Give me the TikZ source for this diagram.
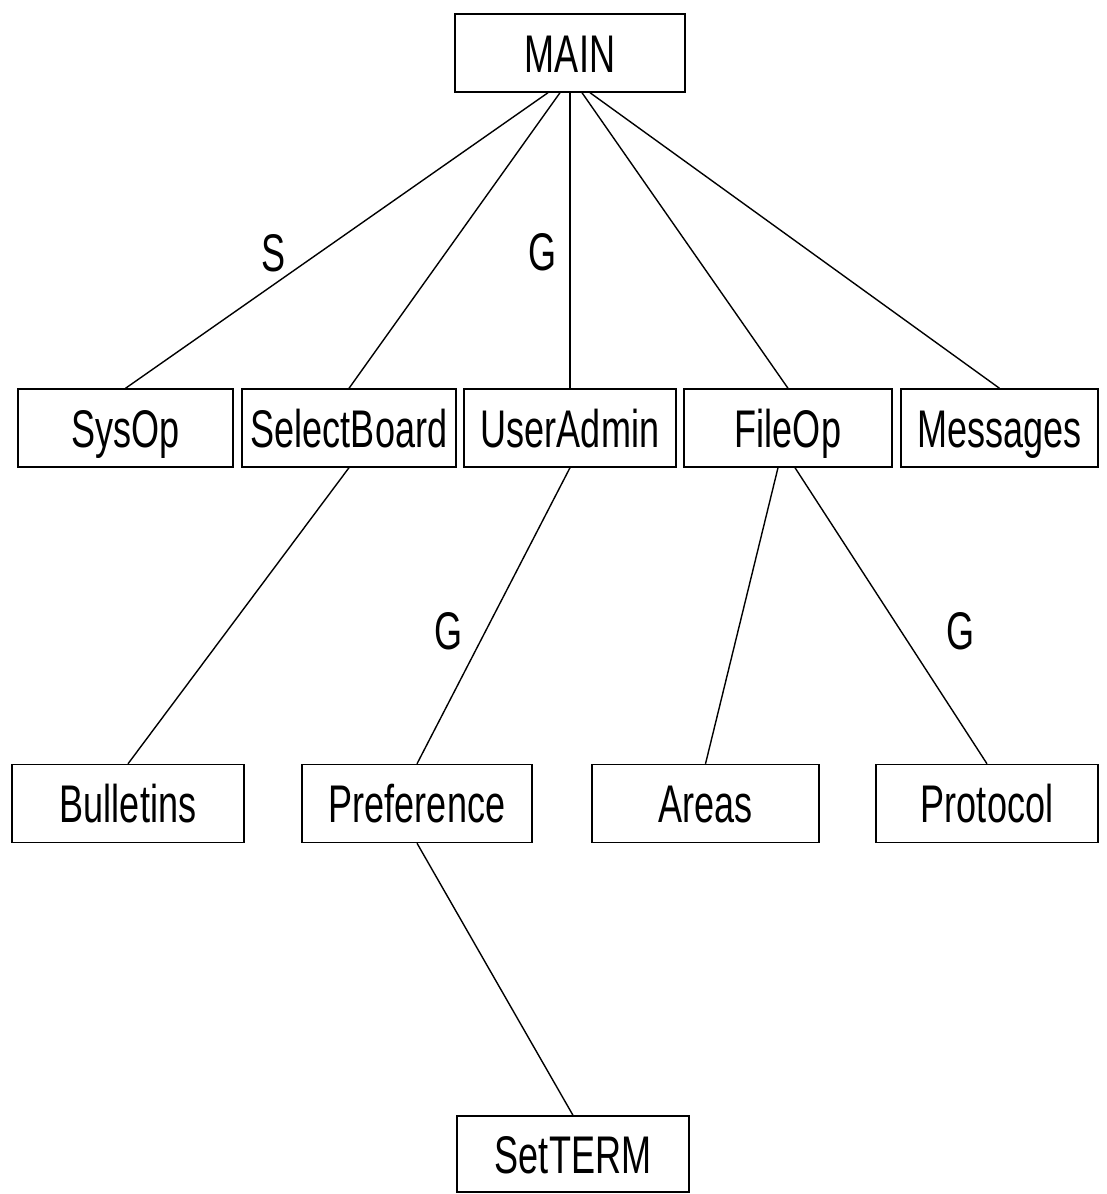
\documentclass[tikz,border=0pt]{standalone}
\usepackage{fontspec}
\newfontfamily\plotfont{Liberation Sans}[FakeStretch=0.68]
\usetikzlibrary{positioning}

\begin{document}
\begin{tikzpicture}[x=1pt, y=-1pt, line width=1.4pt,
	every node/.style={font=\plotfont\fontsize{53}{60}\selectfont, text height=38pt, text depth=0pt, inner sep=0pt},
	module/.style={draw, minimum height=78pt},
	flag/.style={}]

    \useasboundingbox (0,0) rectangle (1107,1194);

    % top of the hierarchy
    \node[module, minimum width=230pt] (main) at (570,53) {MAIN};

    % first level
    \node[module, minimum width=215pt] (sysop)  at (125.5,428) {SysOp};
    \node[module, minimum width=214pt] (select) at (349,428)   {SelectBoard};
    \node[module, minimum width=212pt] (user)   at (570,428)   {UserAdmin};
    \node[module, minimum width=208pt] (fileop) at (788,428)   {FileOp};
    \node[module, minimum width=197pt] (msgs)   at (999.5,428) {Messages};

    % second level
    \node[module, minimum width=232pt] (bull)  at (128,803.5)   {Bulletins};
    \node[module, minimum width=230pt] (pref)  at (417,803.5)   {Preference};
    \node[module, minimum width=227pt] (areas) at (705.5,803.5) {Areas};
    \node[module, minimum width=222pt] (proto) at (987,803.5)   {Protocol};

    % third level
    \node[module, minimum width=232pt, minimum height=76pt] (term) at (573,1154) {SetTERM};

    % calls
    \draw ([xshift=-22pt]main.south) -- (sysop.north);
    \draw ([xshift=-10pt]main.south) -- (select.north);
    \draw (main.south) -- (user.north);
    \draw ([xshift=12pt]main.south) -- (fileop.north);
    \draw ([xshift=20pt]main.south) -- (msgs.north);
    \draw (select.south) -- (bull.north);
    \draw (user.south) -- (pref.north);
    \draw ([xshift=-10pt]fileop.south) -- (areas.north);
    \draw ([xshift=7pt]fileop.south) -- (proto.north);
    \draw (pref.south) -- (term.north);

    % access flags
    \node[flag] (flagS)  at (274,252) {S};
    \node[flag] (flagG)  at (543,251) {G};
    \node[flag] (flagGu) at (449,630) {G};
    \node[flag] (flagGf) at (961,630) {G};
\end{tikzpicture}
\end{document}
